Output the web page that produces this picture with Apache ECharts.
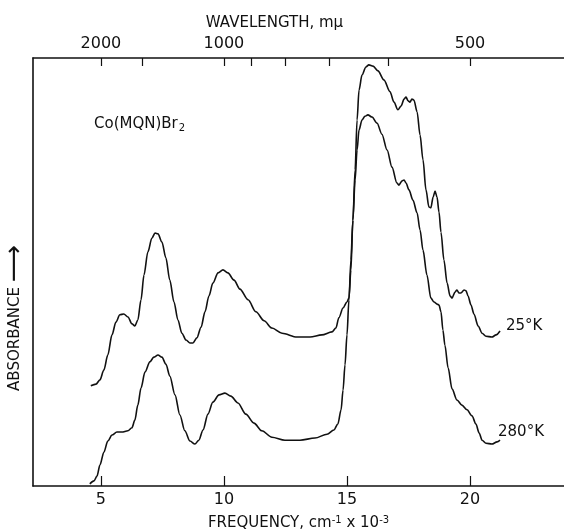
<!doctype html>
<html>
<head>
<meta charset="UTF-8">
<title>Co(MQN)Br2 absorbance</title>
<script src="https://cdn.jsdelivr.net/npm/echarts@6/dist/echarts.min.js"></script>
<style>
    html, body { margin: 0; padding: 0; background: #fff; }
    #chart { width: 564px; height: 529px; }
</style>
</head>
<body>
<div id="chart"></div>
<script>
// frequency in cm^-1 x 10^-3, absorbance in arbitrary units
const freq25 = [4.59, 4.80, 4.96, 5.12, 5.28, 5.45, 5.61, 5.77, 5.93, 6.10, 6.26, 6.38, 6.50, 6.63, 6.75, 6.91, 7.07, 7.20, 7.32, 7.48,
    7.64, 7.80, 7.97, 8.13, 8.29, 8.46, 8.62, 8.74, 8.90, 9.07, 9.23, 9.39, 9.55, 9.76, 9.96, 10.16, 10.41, 10.65, 10.98, 11.30,
    11.63, 11.95, 12.36, 12.97, 13.50, 13.98, 14.39, 14.55, 14.67, 14.84, 15.00, 15.08, 15.16, 15.24, 15.33, 15.41, 15.49, 15.61, 15.77, 15.89,
    16.06, 16.26, 16.50, 16.75, 16.91, 17.07, 17.20, 17.32, 17.40, 17.48, 17.56, 17.64, 17.72, 17.85, 17.97, 18.09, 18.21, 18.33, 18.41, 18.50,
    18.58, 18.66, 18.74, 18.82, 18.94, 19.07, 19.19, 19.27, 19.39, 19.47, 19.55, 19.63, 19.76, 19.84, 19.92, 20.04, 20.16, 20.33, 20.49, 20.65,
    20.89, 21.06, 21.22];
const abs25 = [2.34, 2.38, 2.48, 2.71, 3.06, 3.53, 3.83, 4.00, 4.02, 3.95, 3.79, 3.74, 3.88, 4.35, 4.93, 5.47, 5.79, 5.91, 5.89, 5.70,
    5.33, 4.81, 4.30, 3.88, 3.57, 3.41, 3.34, 3.34, 3.46, 3.71, 4.07, 4.44, 4.74, 4.98, 5.05, 4.98, 4.81, 4.60, 4.35, 4.07,
    3.86, 3.69, 3.57, 3.48, 3.48, 3.53, 3.60, 3.69, 3.93, 4.16, 4.30, 4.39, 5.05, 6.21, 7.38, 8.55, 9.25, 9.60, 9.79, 9.84,
    9.81, 9.70, 9.49, 9.21, 8.97, 8.79, 8.88, 9.04, 9.09, 9.00, 8.97, 9.04, 9.02, 8.74, 8.20, 7.62, 6.92, 6.52, 6.50, 6.75,
    6.89, 6.75, 6.40, 5.93, 5.28, 4.74, 4.44, 4.39, 4.53, 4.58, 4.51, 4.51, 4.58, 4.56, 4.44, 4.23, 4.02, 3.74, 3.57, 3.50,
    3.48, 3.53, 3.62];

const freq280 = [4.55, 4.72, 4.84, 4.96, 5.12, 5.28, 5.45, 5.65, 5.85, 6.10, 6.26, 6.38, 6.50, 6.63, 6.79, 6.99, 7.15, 7.32, 7.48, 7.64,
    7.80, 8.01, 8.21, 8.41, 8.62, 8.82, 8.98, 9.15, 9.35, 9.55, 9.80, 10.04, 10.28, 10.57, 10.89, 11.22, 11.54, 11.95, 12.48, 13.09,
    13.70, 14.19, 14.47, 14.63, 14.76, 14.84, 14.92, 15.00, 15.08, 15.16, 15.24, 15.33, 15.41, 15.49, 15.61, 15.73, 15.85, 16.02, 16.22, 16.42,
    16.63, 16.83, 17.03, 17.11, 17.24, 17.32, 17.40, 17.52, 17.68, 17.85, 17.97, 18.09, 18.25, 18.41, 18.54, 18.66, 18.74, 18.82, 18.90, 18.98,
    19.11, 19.27, 19.47, 19.67, 19.88, 20.08, 20.24, 20.37, 20.49, 20.65, 20.89, 21.10, 21.22];
const abs280 = [0.05, 0.12, 0.23, 0.49, 0.79, 1.05, 1.19, 1.26, 1.26, 1.29, 1.36, 1.54, 1.89, 2.29, 2.66, 2.90, 3.01, 3.06, 3.01, 2.85,
    2.57, 2.13, 1.66, 1.29, 1.05, 0.98, 1.07, 1.31, 1.68, 1.96, 2.13, 2.17, 2.10, 1.94, 1.68, 1.47, 1.29, 1.14, 1.07, 1.07,
    1.12, 1.21, 1.31, 1.45, 1.78, 2.24, 2.83, 3.53, 4.35, 5.28, 6.21, 7.15, 7.85, 8.32, 8.55, 8.64, 8.67, 8.62, 8.48, 8.22,
    7.85, 7.45, 7.08, 7.03, 7.13, 7.15, 7.08, 6.92, 6.68, 6.38, 5.98, 5.51, 4.93, 4.39, 4.30, 4.25, 4.23, 4.07, 3.64, 3.29,
    2.76, 2.27, 2.01, 1.89, 1.78, 1.64, 1.45, 1.24, 1.07, 1.00, 0.98, 1.03, 1.07];

const freqTicks = [5, 10, 15, 20];
const waveTicks = [2000, 1500, 1000, 900, 800, 700, 600, 500];   // mμ
const waveLabels = [2000, 1000, 500];

const toFreq = w => 1e4 / w;
const pairs = (xs, ys) => xs.map((x, i) => [x, ys[i]]);

const ink = '#111';
const font = 'DejaVu Sans';
const xMin = 2.24, xMax = 23.82;

const chart = echarts.init(document.getElementById('chart'));
chart.setOption({
    animation: false,
    backgroundColor: '#fff',
    textStyle: { fontFamily: font, color: ink },
    title: {
        left: 89, top: 111,
        text: '{a|Co(MQN)Br}{b|2}',
        textStyle: {
            fontWeight: 'normal',
            rich: {
                a: { fontFamily: font, fontSize: 15, fontWeight: 'normal', color: ink },
                b: { fontFamily: font, fontSize: 10, fontWeight: 'normal', color: ink, padding: [7, 0, 0, 1] }
            }
        }
    },
    grid: { left: 33, right: 0, top: 58, bottom: 43, outerBoundsMode: 'none', containLabel: false },
    xAxis: [{
        type: 'value', position: 'bottom', min: xMin, max: xMax,
        splitLine: { show: false },
        axisLine: { lineStyle: { color: ink, width: 1.6 } },
        axisTick: { inside: true, length: 10, customValues: freqTicks, lineStyle: { color: ink, width: 1.2 } },
        axisLabel: { customValues: freqTicks, margin: 6, fontSize: 16, color: ink, fontFamily: font },
        name: '{t|FREQUENCY, cm}{s|-1}{t| x 10}{s|-3}',
        nameLocation: 'middle', nameGap: 29,
        nameTextStyle: {
            rich: {
                t: { fontFamily: font, fontSize: 15, color: ink },
                s: { fontFamily: font, fontSize: 10, color: ink, padding: [0, 0, 7, 0] }
            }
        }
    }, {
        type: 'value', position: 'top', min: xMin, max: xMax,
        splitLine: { show: false },
        axisLine: { lineStyle: { color: ink, width: 1.6 } },
        axisTick: { inside: true, length: 8, customValues: waveTicks.map(toFreq), lineStyle: { color: ink, width: 1.2 } },
        axisLabel: {
            customValues: waveLabels.map(toFreq), margin: 6, fontSize: 16, color: ink, fontFamily: font,
            formatter: v => String(Math.round(1e4 / v))
        },
        name: 'WAVELENGTH, mμ',
        nameLocation: 'middle', nameGap: 27,
        nameTextStyle: { fontFamily: font, fontSize: 15, color: ink, padding: [0, 48, 0, 0] }
    }],
    yAxis: {
        type: 'value', min: 0, max: 10,
        splitLine: { show: false },
        axisTick: { show: false },
        axisLabel: { show: false },
        axisLine: { show: true, lineStyle: { color: ink, width: 1.6 } },
        name: '{t|ABSORBANCE }{a|⟶}',
        nameLocation: 'middle', nameRotate: 90, nameGap: 10,
        nameTextStyle: {
            padding: [0, 92, 0, 0],
            rich: {
                t: { fontFamily: font, fontSize: 15, color: ink, lineHeight: 16, verticalAlign: 'middle' },
                a: { fontFamily: font, fontSize: 26, color: ink, lineHeight: 16, verticalAlign: 'middle' }
            }
        }
    },
    series: [{
        name: '25°K', type: 'line', xAxisIndex: 0,
        data: pairs(freq25, abs25),
        showSymbol: false, smooth: 0.3, smoothMonotone: 'x',
        lineStyle: { color: ink, width: 1.6 },
        endLabel: { show: true, formatter: '25°K', offset: [-2, -5], fontSize: 15, fontFamily: font, color: ink }
    }, {
        name: '280°K', type: 'line', xAxisIndex: 0,
        data: pairs(freq280, abs280),
        showSymbol: false, smooth: 0.3, smoothMonotone: 'x',
        lineStyle: { color: ink, width: 1.6 },
        endLabel: { show: true, formatter: '280°K', offset: [-10, -8], fontSize: 15, fontFamily: font, color: ink }
    }]
});
</script>
</body>
</html>
